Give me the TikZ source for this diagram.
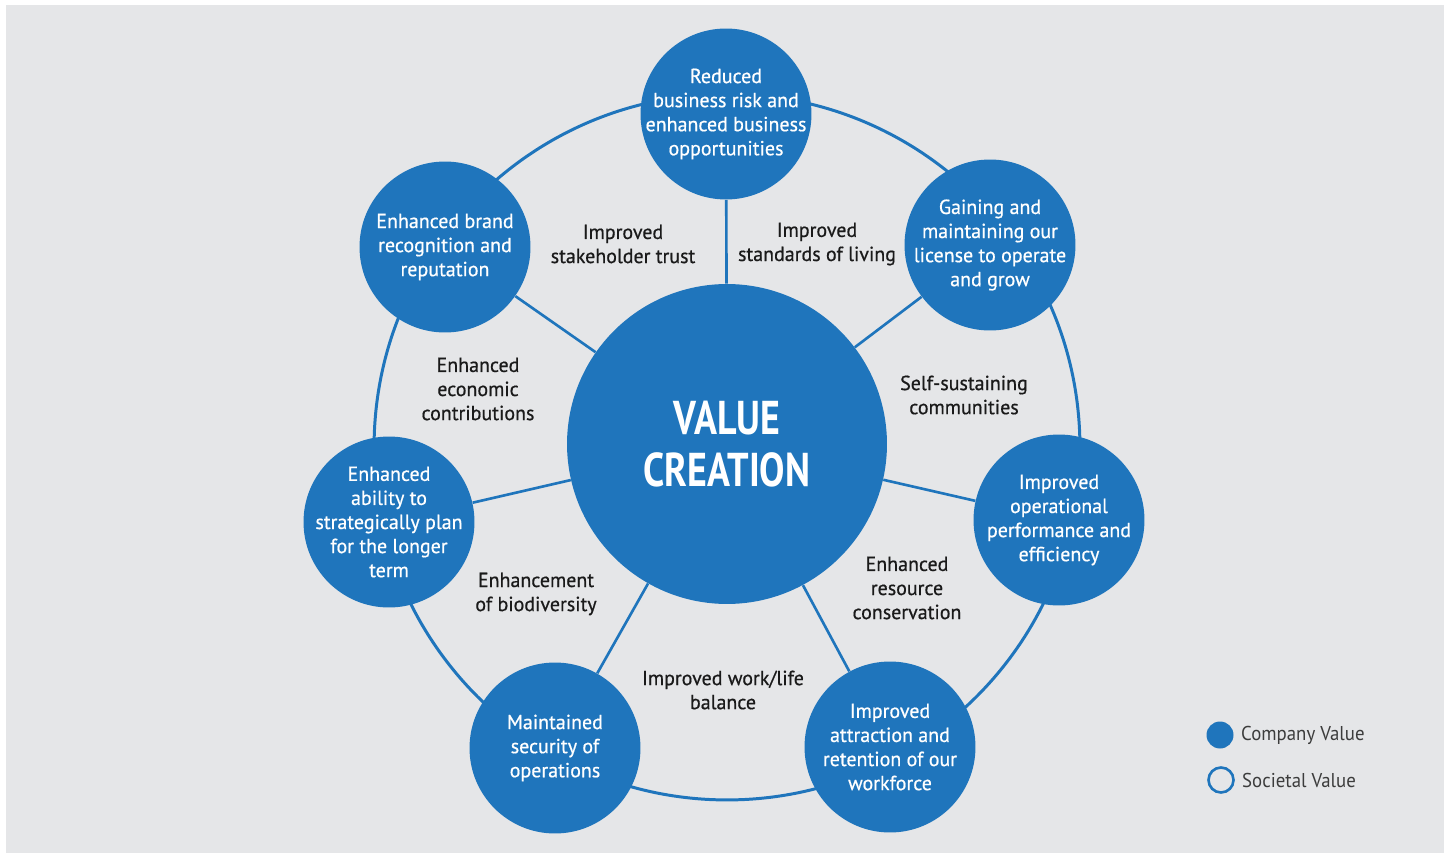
\documentclass[tikz,border=0pt]{standalone}
\usepackage{fontspec}
\setmainfont{PT Sans}[FakeStretch=0.98, FakeBold=0.6]
\newfontfamily\titlefont{PT Sans}[FakeStretch=0.8]
\newfontfamily\legendfont{PT Sans}[FakeStretch=0.94]
\usetikzlibrary{positioning}

\definecolor{vblue}{HTML}{1F75BC}
\definecolor{vgray}{HTML}{E5E6E8}
\definecolor{vtext}{HTML}{1A1A1A}

\tikzset{
  valuenode/.style={circle, fill=vblue, minimum size=3.42cm, inner sep=-1cm, align=center, text=white, font=\fontsize{11.6}{13.7}\selectfont},
  gainlabel/.style={align=center, text=vtext, font=\fontsize{11.6}{13.7}\selectfont},
  spoke/.style={draw=vblue, line width=1.5pt},
  legendtext/.style={text=vtext!85, font=\legendfont\fontsize{11.4}{13.7}\selectfont}
}

\begin{document}
\begin{tikzpicture}[x=0.02cm, y=-0.02cm]
\fill[white] (0,0) rectangle (1451,855);
\fill[vgray] (6,5) rectangle (1444,853);

\draw[vblue, line width=1.7pt] (727,447) circle[radius=7.06cm];

\node[circle, fill=vblue, minimum size=6.4cm, inner sep=-1cm, align=center, text=white, font=\titlefont\bfseries\fontsize{27}{31}\selectfont] (core) at (727,444) {VALUE\\[-0.05cm]CREATION};

\node[valuenode] (risk) at (726,114) {Reduced\\business risk and\\enhanced business\\opportunities};
\node[valuenode] (license) at (990,245) {Gaining and\\maintaining our\\license to operate\\and grow};
\node[valuenode] (efficiency) at (1059,520) {Improved\\operational\\performance and\\efficiency};
\node[valuenode] (workforce) at (890,747) {Improved\\attraction and\\retention of our\\workforce};
\node[valuenode] (security) at (555,748) {Maintained\\security of\\operations};
\node[valuenode] (planning) at (389,522) {Enhanced\\ability to\\strategically plan\\for the longer\\term};
\node[valuenode] (brand) at (445,247) {Enhanced brand\\recognition and\\reputation};

\draw[spoke] (core) -- (risk);
\draw[spoke] (core) -- (license);
\draw[spoke] (core) -- (efficiency);
\draw[spoke] (core) -- (workforce);
\draw[spoke] (core) -- (security);
\draw[spoke] (core) -- (planning);
\draw[spoke] (core) -- (brand);

\node[gainlabel] (trust) at (623,244) {Improved\\stakeholder trust};
\node[gainlabel] (living) at (817,244) {Improved\\standards of living};
\node[gainlabel] (economy) at (478,389) {Enhanced\\economic\\contributions};
\node[gainlabel] (communities) at (964,395) {Self-sustaining\\communities};
\node[gainlabel] (resources) at (907,588) {Enhanced\\resource\\conservation};
\node[gainlabel] (biodiversity) at (536,594) {Enhancement\\of biodiversity};
\node[gainlabel] (balance) at (723,690) {Improved work/life\\balance};

\node[circle, fill=vblue, minimum size=0.54cm, inner sep=0pt] (company) at (1220,735) {};
\node[right of=company, anchor=west, node distance=0.3cm, legendtext] {Company Value};

\node[circle, draw=vblue, line width=1.5pt, minimum size=0.5cm, inner sep=0pt] (societal) at (1221,780) {};
\node[right of=societal, anchor=west, node distance=0.3cm, legendtext] {Societal Value};
\end{tikzpicture}
\end{document}
